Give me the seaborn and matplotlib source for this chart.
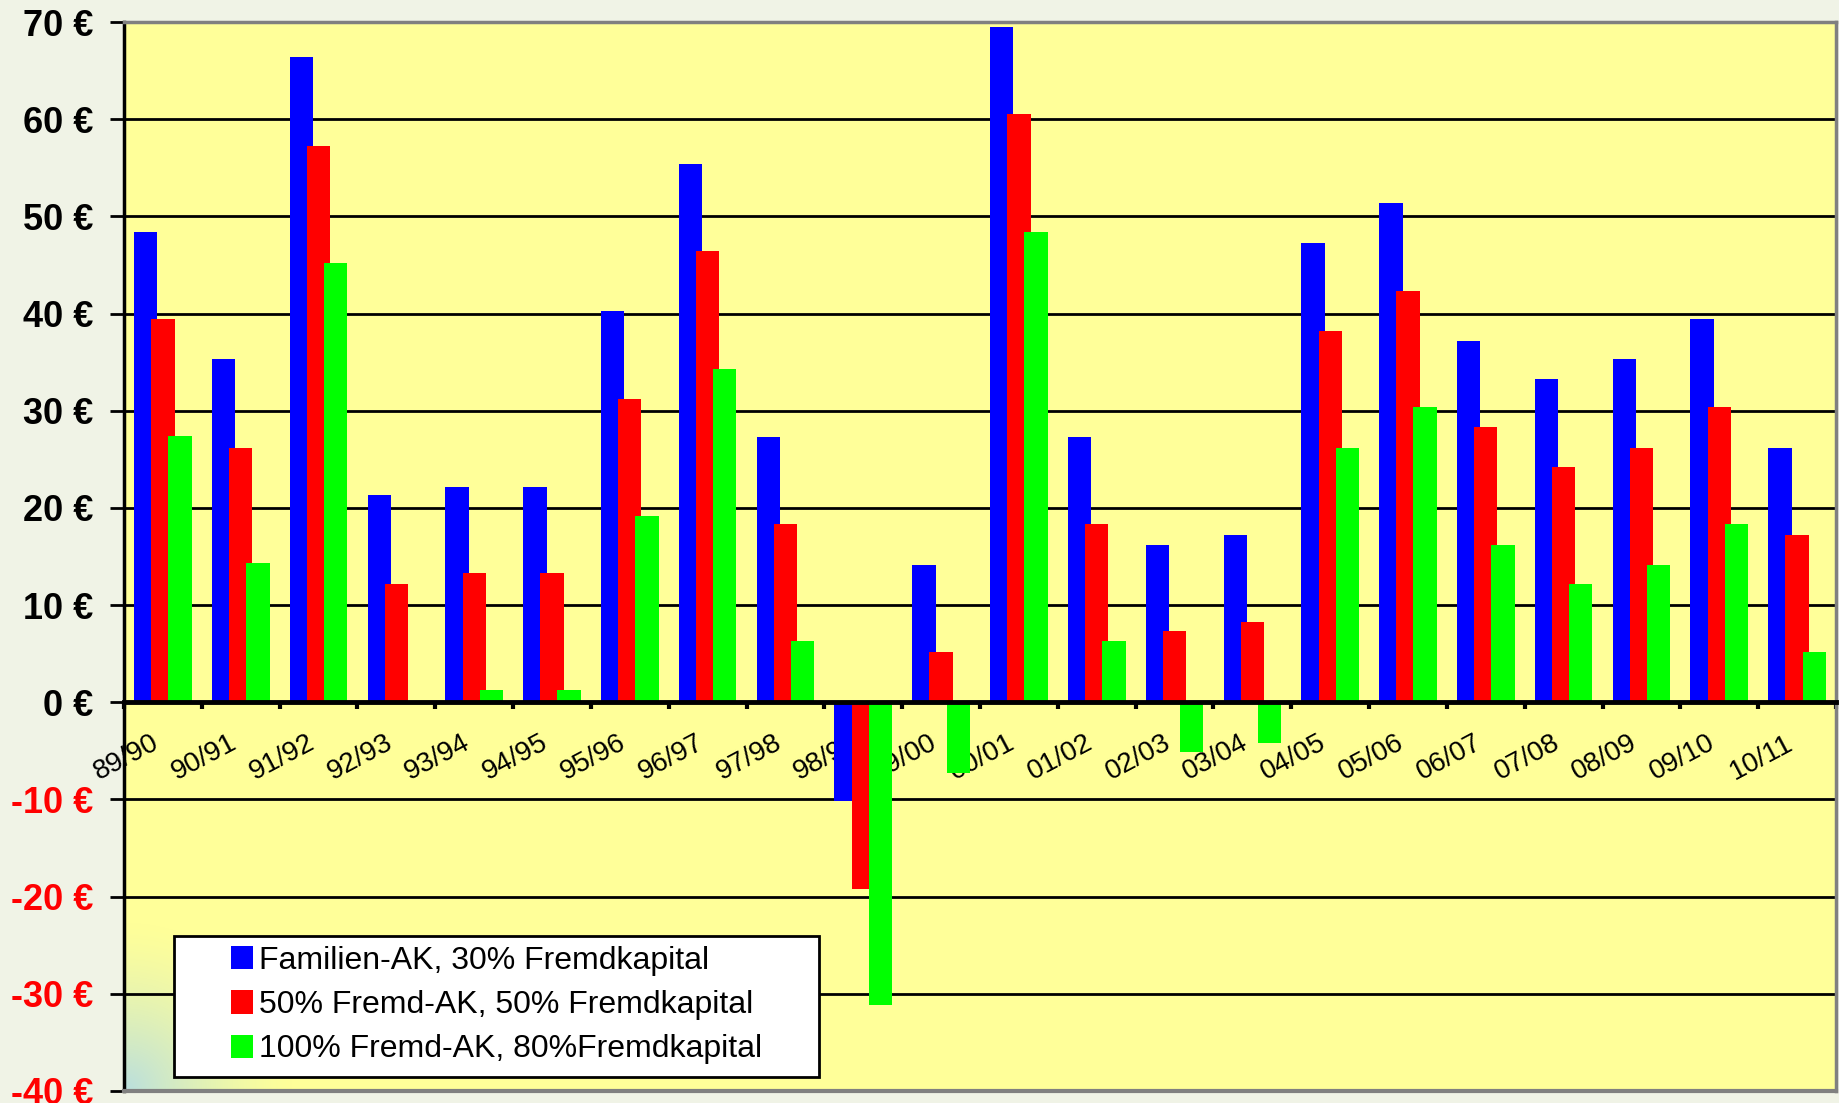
import numpy as np
import pandas as pd
import matplotlib
matplotlib.use("Agg")
import matplotlib.pyplot as plt
import seaborn as sns
from matplotlib.patches import Rectangle
from matplotlib.transforms import ScaledTranslation

seasons = ["89/90", "90/91", "91/92", "92/93", "93/94", "94/95", "95/96", "96/97",
           "97/98", "98/99", "99/00", "00/01", "01/02", "02/03", "03/04", "04/05",
           "05/06", "06/07", "07/08", "08/09", "09/10", "10/11"]
familien_ak = [48.4, 35.3, 66.4, 21.3, 22.2, 22.2, 40.3, 55.4, 27.3, -10.2, 14.1,
               69.5, 27.3, 16.2, 17.2, 47.3, 51.4, 37.2, 33.3, 35.3, 39.4, 26.2]
fremd_50 = [39.4, 26.2, 57.2, 12.2, 13.3, 13.3, 31.2, 46.4, 18.3, -19.2, 5.2,
            60.5, 18.3, 7.3, 8.3, 38.2, 42.3, 28.3, 24.2, 26.2, 30.4, 17.2]
fremd_100 = [27.4, 14.3, 45.2, 0.0, 1.3, 1.3, 19.2, 34.3, 6.3, -31.2, -7.3,
             48.4, 6.3, -5.1, -4.2, 26.2, 30.4, 16.2, 12.2, 14.1, 18.3, 5.2]
series_names = ["Familien-AK, 30% Fremdkapital",
                "50% Fremd-AK, 50% Fremdkapital",
                "100% Fremd-AK, 80%Fremdkapital"]
series_colors = ["#0000FF", "#FF0000", "#00FF00"]
y_ticks = [-40, -30, -20, -10, 0, 10, 20, 30, 40, 50, 60, 70]

df = pd.DataFrame({
    "season": seasons * 3,
    "value": familien_ak + fremd_50 + fremd_100,
    "series": [s for s in series_names for _ in seasons],
})

plt.rcParams["font.family"] = ["Liberation Sans", "DejaVu Sans"]

W, H = 1839, 1103
fig = plt.figure(figsize=(W / 100, H / 100), dpi=100, facecolor="#F0F3E6")
ax = fig.add_axes([124 / W, 1 - 1091 / H, (1836 - 124) / W, (1091 - 22) / H])
ax.set_facecolor("#FFFF99")

# soft bluish shading in the lower left corner of the plot area
gx, gy = np.meshgrid(np.linspace(0, 1712, 400), np.linspace(0, 1069, 250))
t = np.clip(1 - np.hypot(gx, gy) / 170, 0, 1) ** 1.4
rgba = np.zeros(gx.shape + (4,))
rgba[..., 0] = 0.70
rgba[..., 1] = 0.86
rgba[..., 2] = 0.90
rgba[..., 3] = t * 0.9
ax.imshow(rgba, extent=(0, 1, 0, 1), transform=ax.transAxes, origin="lower",
          aspect="auto", zorder=0.5, interpolation="bilinear")

sns.barplot(data=df, x="season", y="value", hue="series", hue_order=series_names,
            palette=series_colors, saturation=1, width=0.66, errorbar=None,
            linewidth=0, legend=False, ax=ax, zorder=2)

# Excel style overlapping bars
for cont in ax.containers:
    for bar in cont:
        c = bar.get_x() + bar.get_width() / 2
        bar.set_width(0.30)
        bar.set_x(c - 0.15)

ax.set_xlim(-0.5, len(seasons) - 0.5)
ax.set_ylim(-40, 70)
ax.set_xlabel("")
ax.set_ylabel("")

# y axis
ax.set_yticks(y_ticks)
ax.set_yticklabels([f"{v} €" for v in y_ticks], fontsize=26, fontweight="bold")
for lbl, v in zip(ax.get_yticklabels(), y_ticks):
    lbl.set_color("#FF0000" if v < 0 else "black")
ax.tick_params(axis="y", length=10, width=2, color="black", pad=12, direction="out")
ax.yaxis.grid(True, color="black", linewidth=2)
ax.set_axisbelow(True)

# x axis on the zero line
ax.spines["bottom"].set_position(("data", 0))
ax.spines["bottom"].set_linewidth(3.5)
ax.spines["bottom"].set_color("black")
ax.spines["left"].set_linewidth(2.5)
ax.spines["left"].set_color("black")
for s in ["top", "right"]:
    ax.spines[s].set_color("#808080")
    ax.spines[s].set_linewidth(2.5)
ax.axhline(-40, color="#808080", linewidth=3, zorder=2.6, clip_on=False)

ax.set_xticks(range(len(seasons)))
ax.set_xticks(np.arange(len(seasons) + 1) - 0.5, minor=True)
ax.tick_params(axis="x", which="major", length=0, pad=20)
ax.tick_params(axis="x", which="minor", length=5, width=3, color="black", direction="out")
ax.set_xticklabels(seasons, fontsize=20, rotation=28, ha="right", va="top",
                   rotation_mode="anchor")
shift = ScaledTranslation(-12 / 100, 0, fig.dpi_scale_trans)
for lbl in ax.get_xticklabels():
    lbl.set_transform(lbl.get_transform() + shift)

# legend box
ax.add_patch(Rectangle((0.0292, 0.0131), 0.3768, 0.1319, transform=ax.transAxes,
                       facecolor="white", edgecolor="black", linewidth=2, zorder=4))
handles = [Rectangle((0, 0), 1, 1, facecolor=c, edgecolor="none") for c in series_colors]
leg = ax.legend(handles, series_names, loc="upper left", bbox_to_anchor=(0.0625, 0.136),
                frameon=False, fontsize=23, handlelength=0.68, handleheight=0.75,
                handletextpad=0.2, labelspacing=0.45, borderpad=0, borderaxespad=0)
leg.set_zorder(5)

fig.savefig("out.png", dpi=100, facecolor=fig.get_facecolor())
